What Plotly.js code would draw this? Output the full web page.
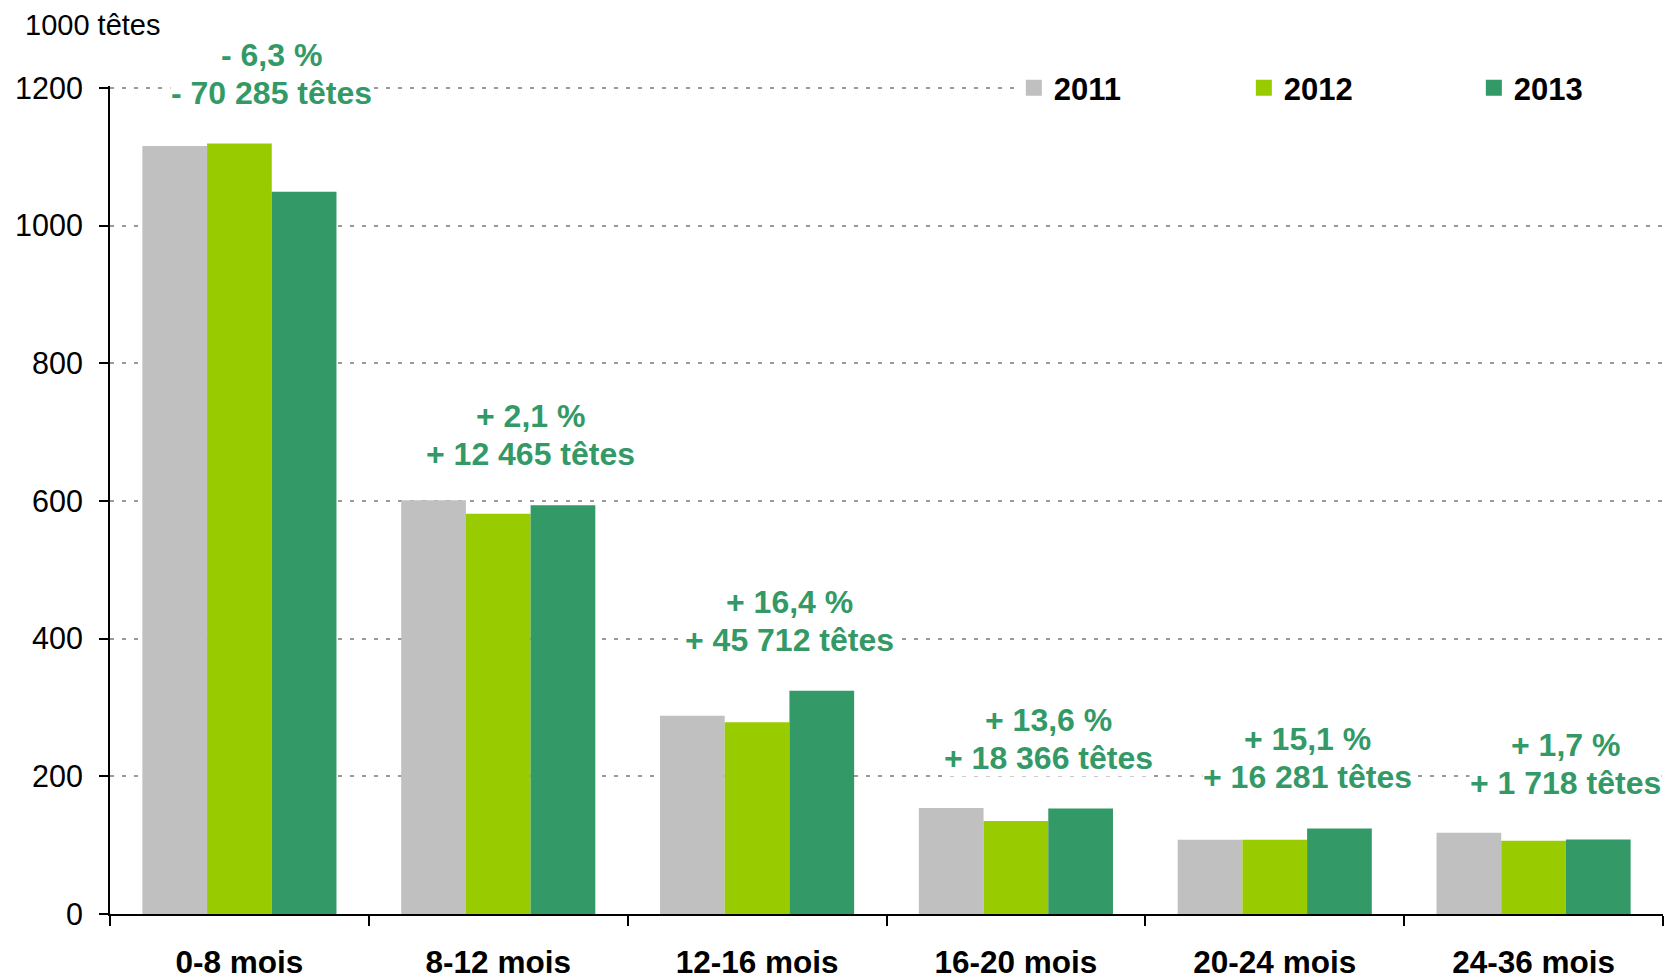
<!DOCTYPE html>
<html>
<head>
<meta charset="utf-8">
<script src="https://cdn.plot.ly/plotly-3.0.1.min.js"></script>
<style>html,body{margin:0;padding:0;background:#fff;}#chart{width:1665px;height:978px;}</style>
</head>
<body>
<div id="chart"></div>
<script>
// Categories (age classes)
const categories = ["0-8 mois", "8-12 mois", "12-16 mois", "16-20 mois", "20-24 mois", "24-36 mois"];
// Values in 1000 heads
const years = ["2011", "2012", "2013"];
const values2011 = [1116, 601, 288, 154, 107.8, 118.2];
const values2012 = [1119.5, 581.4, 278.7, 135.0, 107.8, 106.5];
const values2013 = [1049.2, 593.9, 324.4, 153.4, 124.1, 108.2];
// Change 2012 -> 2013 labels
const changePct = ["- 6,3 %", "+ 2,1 %", "+ 16,4 %", "+ 13,6 %", "+ 15,1 %", "+ 1,7 %"];
const changeHeads = ["- 70 285 têtes", "+ 12 465 têtes", "+ 45 712 têtes", "+ 18 366 têtes", "+ 16 281 têtes", "+ 1 718 têtes"];
const yTicks = [0, 200, 400, 600, 800, 1000, 1200];
const unitLabel = "1000 têtes";

const colors = ["#C0C0C0", "#99CC00", "#339966"];
const labelGreen = "#339966";
// label vertical centre (axis units) for each category
const labelY = [1221, 696, 426, 254, 226, 218];

const W = 1665, H = 978, mL = 110, mR = 2, mT = 86, mB = 64;
const yMax = 1200, yTop = 1203;
const FONT = "Liberation Sans, Arial, sans-serif";

const series = [values2011, values2012, values2013];
const traces = series.map((vals, i) => ({
  type: "bar",
  name: years[i],
  x: categories,
  y: vals,
  marker: {color: colors[i], line: {width: 0}},
  showlegend: false,
  hoverinfo: "skip"
}));
// legend entries (square markers)
years.forEach((yr, i) => {
  traces.push({
    type: "scatter", mode: "markers", name: yr,
    x: [categories[0]], y: [null],
    marker: {symbol: "square", size: 17, color: colors[i]},
    showlegend: true, hoverinfo: "skip"
  });
});

const labelFont = {family: FONT, size: 32, color: labelGreen, weight: "bold"};
const annotations = [];
categories.forEach((c, i) => {
  [[changePct[i], 19], [changeHeads[i], -19]].forEach(([txt, shift]) => {
    annotations.push({
      x: i + 0.125,
      y: labelY[i] / yTop,
      xref: "x", yref: "paper",
      yshift: shift,
      text: txt,
      showarrow: false,
      font: labelFont,
      bgcolor: "#ffffff",
      borderpad: 0,
      xanchor: "center", yanchor: "middle"
    });
  });
});
annotations.push({
  x: (23 - mL) / (W - mL - mR), y: 1 + (mT - 25) / (H - mT - mB),
  xref: "paper", yref: "paper",
  text: unitLabel, showarrow: false,
  font: {family: FONT, size: 29, color: "#000"},
  xanchor: "left", yanchor: "middle"
});

const layout = {
  width: W, height: H,
  margin: {l: mL, r: mR, t: mT, b: mB, pad: 0, autoexpand: false},
  paper_bgcolor: "#fff", plot_bgcolor: "#fff",
  barmode: "group",
  bargap: 0.25, bargroupgap: 0,
  font: {family: FONT, color: "#000"},
  showlegend: true,
  legend: {
    orientation: "h",
    x: 0.582, xanchor: "left",
    y: yMax / yTop, yanchor: "middle",
    bgcolor: "#ffffff",
    borderwidth: 0,
    font: {family: FONT, size: 31, color: "#000", weight: "bold"},
    entrywidth: 185,
    entrywidthmode: "pixels",
    itemsizing: "trace",
    traceorder: "normal"
  },
  xaxis: {
    type: "category",
    showline: true, linecolor: "#000", linewidth: 2,
    ticks: "outside", ticklen: 10, tickwidth: 2, tickcolor: "#000",
    tickson: "boundaries",
    showgrid: false, zeroline: false,
    tickfont: {family: FONT, size: 31.5, color: "#000", weight: "bold"},
    ticklabelstandoff: 19,
    fixedrange: true
  },
  yaxis: {
    range: [0, yTop],
    tickvals: yTicks,
    showline: true, linecolor: "#000", linewidth: 2,
    ticks: "outside", ticklen: 9, tickwidth: 2, tickcolor: "#000",
    showgrid: true, gridcolor: "#999999", gridwidth: 2, griddash: "4px,8px",
    zeroline: false,
    tickfont: {family: FONT, size: 30.5, color: "#000"},
    ticklabelstandoff: 10,
    fixedrange: true
  },
  annotations: annotations
};

Plotly.newPlot("chart", traces, layout, {displayModeBar: false, staticPlot: true});
</script>
</body>
</html>
